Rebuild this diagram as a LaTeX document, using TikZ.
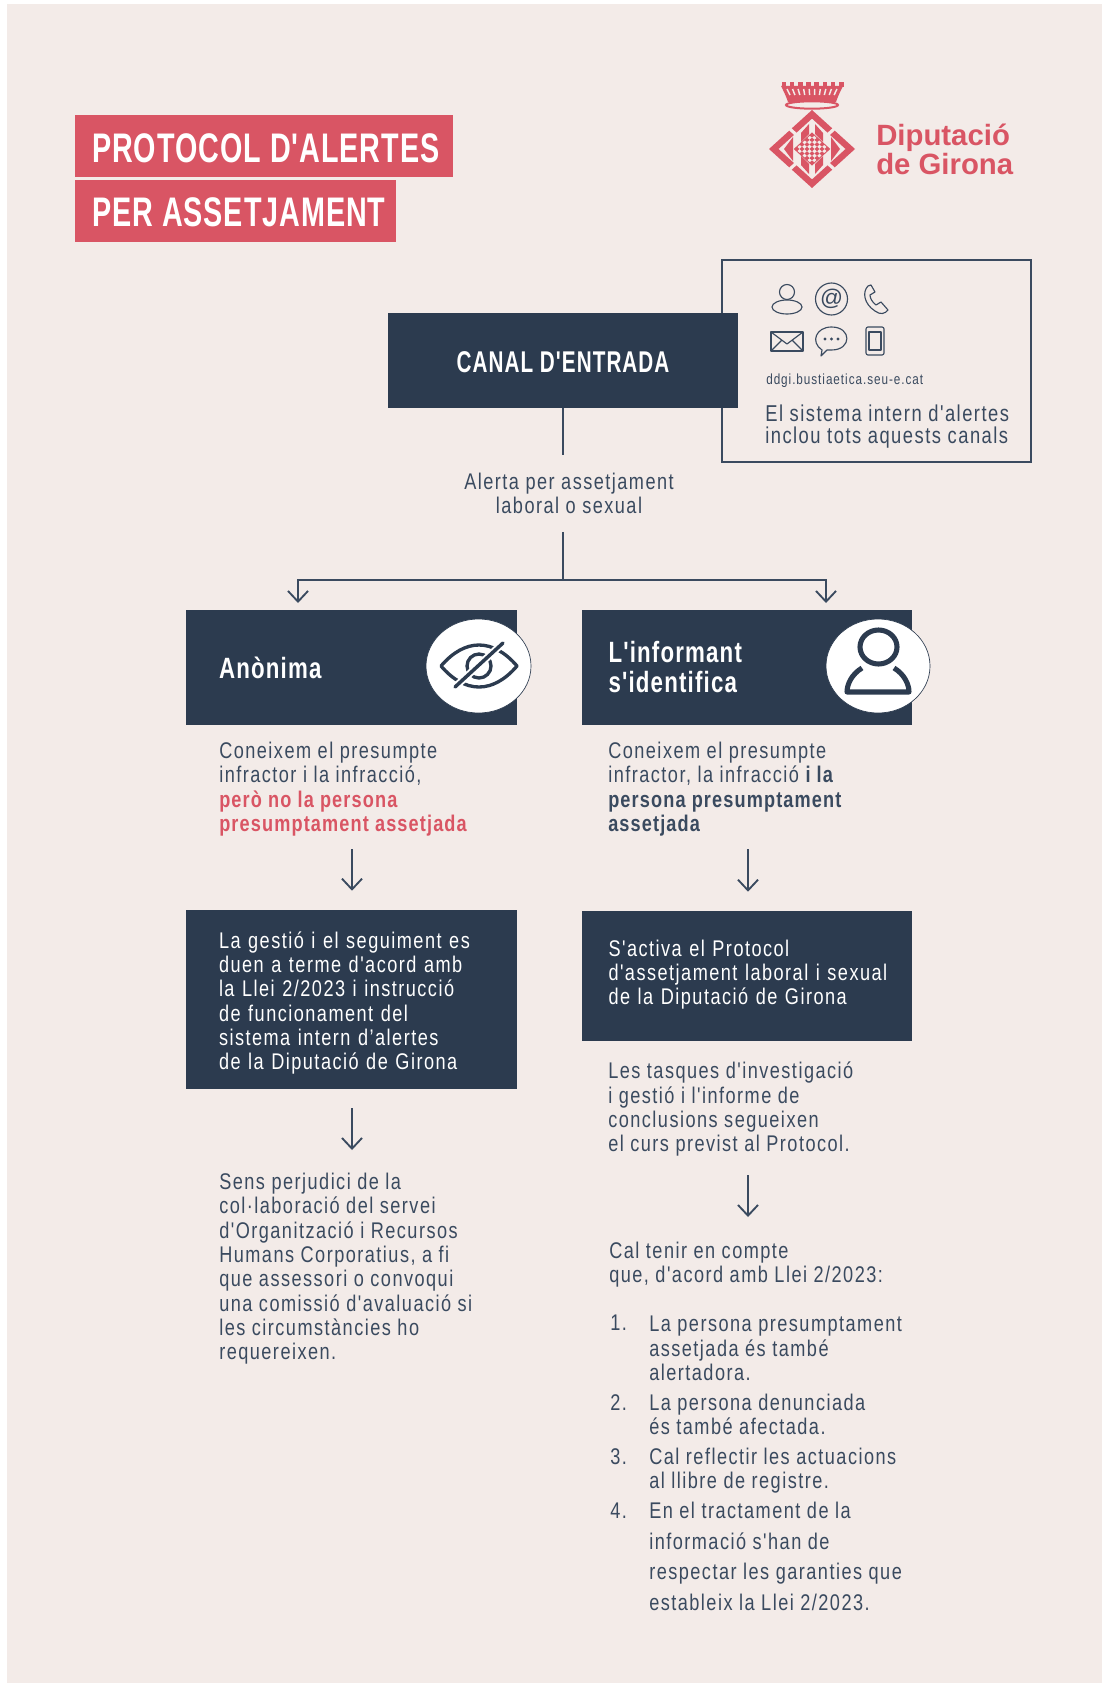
\documentclass[tikz,border=0pt]{standalone}
\usepackage{fontspec}
\usetikzlibrary{arrows.meta,calc,shapes.geometric}
\newfontfamily\bodyf[FakeStretch=0.80,LetterSpace=6.5,BoldFeatures={LetterSpace=5}]{Liberation Sans}
\newfontfamily\canalf[FakeStretch=0.69,LetterSpace=3.5]{Liberation Sans}
\newfontfamily\headf[FakeStretch=0.76,LetterSpace=4]{Liberation Sans}
\newfontfamily\titlef[FakeStretch=0.695,LetterSpace=2.3]{Liberation Sans}
\newfontfamily\logof{Liberation Sans}
\definecolor{bgc}{HTML}{F3EBE8}
\definecolor{navy}{HTML}{2C3B4F}
\definecolor{redc}{HTML}{D95564}
\definecolor{inkc}{HTML}{3A4A5F}
\newcommand{\fs}[2]{\fontsize{#1}{#2}\selectfont}
\tikzset{
  para/.style={anchor=north west,inner sep=0pt,align=left,text=inkc,font=\bodyf\fs{17}{18.2},execute at begin node=\rule{0pt}{15pt}},
  darkbox/.style={fill=navy,text=white,inner ysep=0pt,inner xsep=0pt,align=left,font=\bodyf\fs{17}{18.2}},
  redbox/.style={fill=redc,text=white,inner ysep=0pt,inner xsep=0pt,align=left,font=\titlef\bfseries\fs{31}{33},minimum height=46.5pt},
  arr/.style={draw=inkc,line width=1.7pt,-{Straight Barb[length=8pt,width=15pt,line width=1.4pt]}},
  conn/.style={draw=inkc,line width=1.8pt},
  icon/.style={draw=inkc,line width=0.85pt,line join=round,fill=none},
  disc/.style={ellipse,fill=white,draw=navy,line width=0.5pt,inner sep=0pt},
  logotext/.style={anchor=base west,inner sep=0pt,text=redc,font=\logof\bfseries\fs{22}{23}},
}
\begin{document}
\begin{tikzpicture}[x=0.75pt,y=-0.75pt]
\useasboundingbox (0,0) rectangle (1102,1683);
\fill[white] (0,0) rectangle (1102,1683);
\fill[bgc] (7,4) rectangle (1102,1683);

% title
\node[redbox,minimum width=283.5pt,text width=258pt,text height=25.5pt,text depth=0pt] (t1) at (264,146) {\mbox{PROTOCOL\hspace{-3.5pt} D'ALERTES}};
\node[redbox,minimum width=240.75pt,text width=215.25pt,text height=23.25pt,text depth=0pt] (t2) at (235.5,211.5) {\mbox{PER\hspace{-3.5pt} ASSETJAMENT}};

% logo
\node[logotext] (lg1) at (876,146) {Diputació};
\node[logotext] (lg2) at (876,175) {de Girona};
% crown
\fill[redc] (781,86) .. controls (784,92) and (786,96) .. (788,102) -- (836,102) .. controls (838,96) and (840,92) .. (843,86) -- cycle;
\foreach \i in {0,...,7}{\fill[redc] ({781.5+\i*8.2},82) rectangle ++(4.6,5);}
\foreach \i in {0,...,9}{\draw[bgc,line width=1.1pt] ({787+\i*5.55},89) -- ({790+\i*4.9},95);}
\draw[redc,line width=1.5pt,fill=bgc] (812,105) ellipse (26 and 3.7);
% diamond
\begin{scope}[shift={(812,149)},x={(32.25pt,-29.25pt)},y={(-32.25pt,-29.25pt)}]
 \fill[redc] (.5,.5) -- (.03,.5) -- (.03,.39) -- (.39,.39) -- (.39,.03) -- (.5,.03) -- cycle;
 \fill[redc] (-.5,.5) -- (-.03,.5) -- (-.03,.39) -- (-.39,.39) -- (-.39,.03) -- (-.5,.03) -- cycle;
 \fill[redc] (-.5,-.5) -- (-.03,-.5) -- (-.03,-.39) -- (-.39,-.39) -- (-.39,-.03) -- (-.5,-.03) -- cycle;
 \fill[redc] (.5,-.5) -- (.03,-.5) -- (.03,-.39) -- (.39,-.39) -- (.39,-.03) -- (.5,-.03) -- cycle;
 \foreach \a in {-3,...,3}{\foreach \b in {-3,...,3}{
   \pgfmathtruncatemacro{\k}{mod(\a+\b+6,2)}
   \pgfmathsetmacro{\ca}{\a*0.0583-0.0292}
   \pgfmathsetmacro{\cb}{\b*0.0583-0.0292}
   \ifnum\k=0 \fill[redc] (\ca,\cb) -- ++(0.0583,0) -- ++(0,0.0583) -- ++(-0.0583,0) -- cycle;\fi}}
 \draw[redc,line width=0.7pt] (-.204,-.204) -- (.204,-.204) -- (.204,.204) -- (-.204,.204) -- cycle;
\end{scope}
\begin{scope}[shift={(812,149)}]
 \fill[redc] (-11,-16) -- (-3,-25) -- (-3,-15) -- (-11,-7) -- cycle;
 \fill[redc] (11,-16) -- (3,-25) -- (3,-15) -- (11,-7) -- cycle;
 \fill[redc] (-11,16) -- (-3,25) -- (-3,15) -- (-11,7) -- cycle;
 \fill[redc] (11,16) -- (3,25) -- (3,15) -- (11,7) -- cycle;
 \fill[redc] (-19,-12) -- (-28,0) -- (-19,12) -- cycle;
 \fill[redc] (19,-12) -- (28,0) -- (19,12) -- cycle;
\end{scope}

% channels box
\node[draw=inkc,line width=1.6pt,minimum width=231.75pt,minimum height=151.5pt,inner sep=0pt] (canals) at (876.5,361) {};
\node[darkbox,font=\canalf\bfseries\fs{22.5}{23},minimum width=262.5pt,minimum height=71.25pt,align=center,text height=18.5pt,text depth=0pt] (canal) at (563,360.5) {CANAL D'ENTRADA};
% icons
\draw[icon] (787,292) circle (7.5);
\draw[icon] (787,307) ellipse (15 and 7);
\node[icon,circle,minimum size=24pt,inner sep=0pt,text=inkc,font=\logof\fs{17}{17}] (atc) at (831.5,299) {@};
\draw[icon] (868,286) .. controls (862,292) and (864,304) .. (875,311) .. controls (880,315) and (885,314) .. (888,310) -- (881,302) -- (876,305) .. controls (872,302) and (870,298) .. (870,295) -- (875,292) -- (871,285) -- cycle;
\draw[icon,line width=1.1pt] (771,332) rectangle (803,351);
\draw[icon] (771,332) -- (787,344) -- (803,332) (771,351) -- (782,340) (803,351) -- (792,340);
\draw[icon] (822,350) .. controls (810,342) and (816,327) .. (831.5,327) .. controls (852,327) and (852,350) .. (831.5,350) -- (827,350) -- (821,356) -- cycle;
\fill[inkc] (825,339) circle (1.6) (831.5,339) circle (1.6) (838,339) circle (1.6);
\draw[icon,rounded corners=1.5pt] (866,327) rectangle (884,355);
\draw[icon] (869,332) rectangle (881,350);
\node[para,font=\bodyf\fs{11}{11},execute at begin node=\rule{0pt}{12pt}] (url) at (766,364) {ddgi.bustiaetica.seu-e.cat};
\node[para,font=\bodyf\fs{17.2}{16.1}] (sys) at (765,405) {El sistema intern d'alertes\\inclou tots aquests canals};

% alert label
\node[para,anchor=north,align=center,outer ysep=13.5pt] (alert) at (569,455) {Alerta per assetjament\\laboral o sexual};
\coordinate (fork) at (563,580);
\coordinate (tl) at (298,603);
\coordinate (tr) at (826,603);
\draw[conn] (canal.south) -- (canal.south |- alert.north);
\draw[conn] (canal.south |- alert.south) -- (fork);
\draw[arr] (fork) -| (tl);
\draw[arr] (fork) -| (tr);

% heads
\node[darkbox,minimum width=248.25pt,minimum height=86pt,text width=198.75pt,font=\headf\bfseries\fs{22}{22.5}] (anon) at (351.5,667.5) {Anònima};
\node[darkbox,minimum width=247.5pt,minimum height=86pt,text width=207.75pt,font=\headf\bfseries\fs{22}{22.5}] (ident) at (747,667.5) {L'informant\\s'identifica};
\node[disc,minimum width=78.75pt,minimum height=70.5pt] (d1) at (478.5,666) {};
\node[disc,minimum width=78pt,minimum height=70.5pt] (d2) at (878,666) {};
% eye
\draw[navy,line width=2.5pt,line join=round] (441,666) .. controls (465,638) and (493,638) .. (517,666) .. controls (493,694) and (465,694) .. (441,666) -- cycle;
\draw[navy,line width=2.5pt] (479,666) ellipse (12 and 12);
\draw[white,line width=5.5pt] (503,643) -- (455,687);
\draw[navy,line width=2.6pt,line cap=round] (503,643) -- (455,687);
% person
\draw[navy,line width=3.8pt] (878.5,647) ellipse (18.5 and 17);
\draw[navy,line width=3.8pt,line join=round] (862,668) .. controls (852,674) and (847,684) .. (847,692) -- (909,692) .. controls (909,684) and (904,674) .. (894,668);

% left column
\node[para] (p1) at (219,742) {Coneixem el presumpte\\infractor i la infracció,\\\textcolor{redc}{\bfseries però no la persona}\\\textcolor{redc}{\bfseries presumptament assetjada}};
\coordinate (a1) at (352,849);
\node[darkbox,minimum width=248.25pt,minimum height=134.25pt,text width=198.75pt,execute at begin node=\rule{0pt}{17.6pt}] (gest) at (351.5,999.5) {La gestió i el seguiment es\\duen a terme d'acord amb\\la Llei 2/2023 i instrucció\\de funcionament del\\sistema intern d’alertes\\de la Diputació de Girona};
\draw[arr,shorten >=14.25pt] (a1) -- (a1 |- gest.north);
\coordinate (a2) at (352,1150);
\draw[arr,shorten <=14.25pt] (a2 |- gest.south) -- (a2);
\node[para] (p2) at (219,1173) {Sens perjudici de la\\col·laboració del servei\\d'Organització i Recursos\\Humans Corporatius, a fi\\que assessori o convoqui\\una comissió d'avaluació si\\les circumstàncies ho\\requereixen.};

% right column
\node[para] (q1) at (608,742) {Coneixem el presumpte\\infractor, la infracció {\bfseries i la}\\{\bfseries persona presumptament}\\{\bfseries assetjada}};
\coordinate (a3) at (748,849);
\node[darkbox,minimum width=247.5pt,minimum height=97.5pt,text width=207.75pt,execute at begin node=\rule{0pt}{16pt}] (act) at (747,976) {S'activa el Protocol\\d'assetjament laboral i sexual\\de la Diputació de Girona\rule[-9pt]{0pt}{9pt}};
\draw[arr,shorten >=14.25pt] (a3) -- (a3 |- act.north);
\node[para] (q2) at (608,1062) {Les tasques d'investigació\\i gestió i l'informe de\\conclusions segueixen\\el curs previst al Protocol.};
\coordinate (a4) at (748,1175);
\coordinate (a5) at (748,1217);
\draw[arr] (a4) -- (a5);
\node[para] (q3) at (609,1242) {Cal tenir en compte\\que, d'acord amb Llei 2/2023:};
\node[para] (n1) at (610,1310) {1.};
\node[para] (l1) at (649,1316) {La persona presumptament\\assetjada és també\\alertadora.};
\node[para] (n2) at (610,1390) {2.};
\node[para] (l2) at (649,1394) {La persona denunciada\\és també afectada.};
\node[para] (n3) at (610,1444) {3.};
\node[para] (l3) at (649,1448) {Cal reflectir les actuacions\\al llibre de registre.};
\node[para] (n4) at (610,1498) {4.};
\node[para,font=\bodyf\fs{17}{22.9}] (l4) at (649,1502) {En el tractament de la\\informació s'han de\\respectar les garanties que\\estableix la Llei 2/2023.};
\end{tikzpicture}
\end{document}
